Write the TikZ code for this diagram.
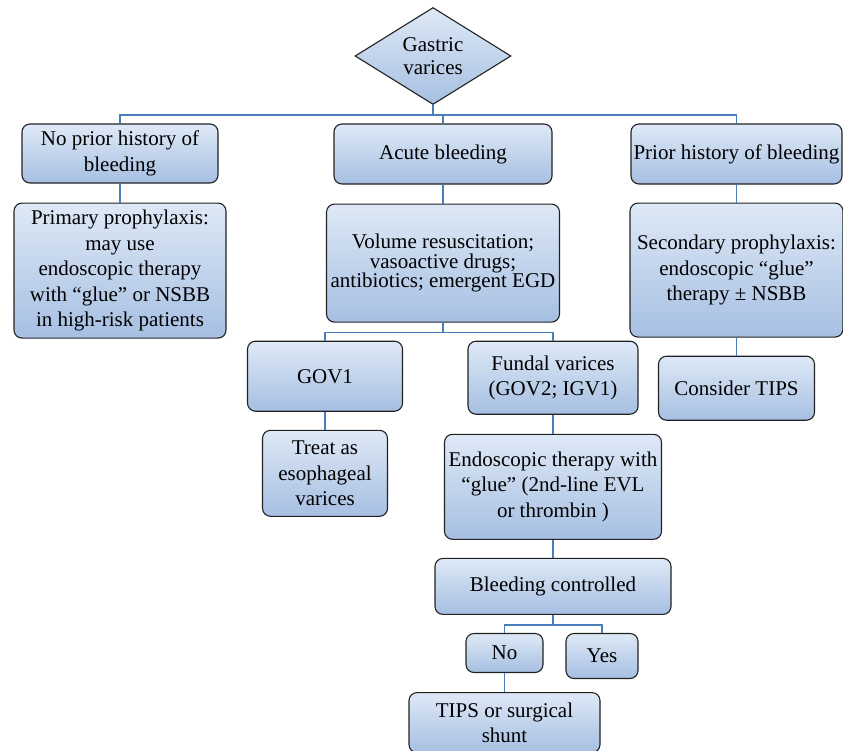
\documentclass[tikz,border=0pt]{standalone}
\usepackage{fontspec}
\setmainfont{Liberation Serif}
\usetikzlibrary{positioning,shapes.geometric}
\definecolor{boxtop}{RGB}{222,233,246}
\definecolor{boxbot}{RGB}{166,191,226}
\definecolor{linkblue}{RGB}{74,126,187}
\definecolor{boxline}{RGB}{34,34,34}

\begin{document}
\begin{tikzpicture}[x=1pt,y=1pt,
    every node/.style={font=\fontsize{21}{25.5}\selectfont, align=center},
    box/.style={draw=boxline, line width=1.1pt, rounded corners=8pt,
        top color=boxtop, bottom color=boxbot, inner sep=1pt},
    link/.style={draw=linkblue, line width=1.3pt}]
    \useasboundingbox (0,0) rectangle (843,-750);
    \clip (0,0) rectangle (843,-750);

    \node [diamond, draw=boxline, line width=1.1pt, top color=boxtop, bottom color=boxbot,
        shape aspect=1.6, inner sep=0pt, minimum width=156pt, minimum height=97pt]
        (gv) at (433,-56) {Gastric\\[-3pt]varices};

    \node [box, minimum width=196pt, minimum height=59pt] (noprior) at (120,-153.5) {No prior history of\\bleeding};
    \node [box, minimum width=218pt, minimum height=60pt] (acute) at (443,-154) {Acute bleeding};
    \node [box, minimum width=211pt, minimum height=60pt] (prior) at (736.5,-154) {Prior history of bleeding};

    \node [box, below=19pt of noprior, minimum width=212pt, minimum height=135pt] (primary)
        {Primary prophylaxis:\\may use\\ endoscopic therapy\\with “glue” or NSBB\\in high-risk patients};
    \node [box, below=19pt of acute, minimum width=233pt, minimum height=118pt] (volume)
        {Volume resuscitation;\\[-6pt]vasoactive drugs;\\[-6pt]antibiotics; emergent EGD};
    \node [box, below=18pt of prior, minimum width=213pt, minimum height=134pt] (secondary)
        {Secondary prophylaxis:\\endoscopic “glue”\\therapy ± NSBB};
    \node [box, below=18pt of secondary, minimum width=156pt, minimum height=64pt] (consider) {Consider TIPS};

    \node [box, below=18pt of volume, xshift=-118pt, minimum width=155pt, minimum height=70pt] (gov1) {GOV1};
    \node [box, below=18pt of volume, xshift=110pt, minimum width=170pt, minimum height=73pt] (fundal)
        {Fundal varices\\(GOV2; IGV1)};
    \node [box, below=18pt of gov1, minimum width=125pt, minimum height=86pt] (treat)
        {Treat as\\esophageal\\varices};
    \node [box, below=19pt of fundal, minimum width=217pt, minimum height=105pt] (endo)
        {Endoscopic therapy with\\“glue” (2nd-line EVL\\or thrombin )};
    \node [box, below=18pt of endo, minimum width=236pt, minimum height=56pt] (bleeding) {Bleeding controlled};
    \node [box, below=18pt of bleeding, xshift=-48.5pt, minimum width=77pt, minimum height=39pt] (no) {No};
    \node [box, below=18pt of bleeding, xshift=49pt, minimum width=72pt, minimum height=45pt] (yes) {Yes};
    \node [box, below=19pt of no, minimum width=191pt, minimum height=60pt] (tips)
        {TIPS or surgical\\shunt};

    \coordinate (bus1) at ([yshift=-10pt]gv.south);
    \coordinate (bus2) at ([yshift=-10pt]volume.south);
    \coordinate (bus3) at ([yshift=-10pt]bleeding.south);

    \draw [link] (gv.south) -- (bus1);
    \draw [link] (noprior.north) |- (bus1) -| (prior.north);
    \draw [link] (acute.north) -- (acute.north |- bus1);
    \draw [link] (noprior) -- (primary);
    \draw [link] (acute) -- (volume);
    \draw [link] (prior) -- (secondary);
    \draw [link] (secondary) -- (consider);
    \draw [link] (volume.south) -- (bus2);
    \draw [link] (gov1.north) |- (bus2) -| (fundal.north);
    \draw [link] (gov1) -- (treat);
    \draw [link] (fundal) -- (endo);
    \draw [link] (endo) -- (bleeding);
    \draw [link] (bleeding.south) -- (bus3);
    \draw [link] (no.north) |- (bus3) -| (yes.north);
    \draw [link] (no) -- (tips);
\end{tikzpicture}
\end{document}
